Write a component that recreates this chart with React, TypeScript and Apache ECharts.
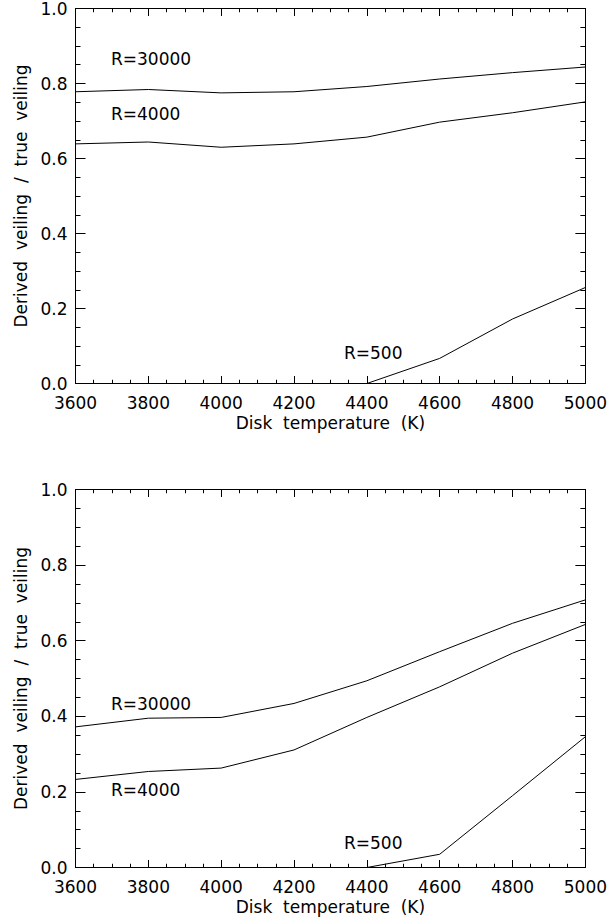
import React, { useEffect, useRef } from "react";
import * as echarts from "echarts";

const temps = [3600, 3800, 4000, 4200, 4400, 4600, 4800, 5000];
const xTicks = [3600, 3800, 4000, 4200, 4400, 4600, 4800, 5000];
const yTicks = [0.0, 0.2, 0.4, 0.6, 0.8, 1.0];

// Top panel
const topR30000 = [0.778, 0.784, 0.775, 0.778, 0.792, 0.812, 0.829, 0.844];
const topR4000 = [0.639, 0.644, 0.630, 0.639, 0.657, 0.697, 0.722, 0.751];
const topR500 = [null, null, null, null, 0.0, 0.067, 0.172, 0.256];

// Bottom panel
const botR30000 = [0.372, 0.395, 0.397, 0.434, 0.494, 0.571, 0.646, 0.708];
const botR4000 = [0.233, 0.254, 0.263, 0.311, 0.397, 0.478, 0.567, 0.643];
const botR500 = [null, null, null, null, 0.0, 0.035, 0.19, 0.346];

const xTitle = "Disk  temperature  (K)";
const yTitle = "Derived  veiling  /  true  veiling";

const FONT = "DejaVu Sans";
const FS = 17;

const pair = (ys: (number | null)[]) => temps.map((t, i) => [t, ys[i]]);

export default function App() {
  const ref = useRef<HTMLDivElement>(null);
  useEffect(() => {
    if (!ref.current) return;
    const chart = echarts.init(ref.current, null, { renderer: "svg" });
    const L = 75.5, W = 512, H = 378;
    const tops = [5.5, 489.5];

    const lineStyle = { color: "#000", width: 1 };
    const xAxes: any[] = [];
    const yAxes: any[] = [];
    tops.forEach((_, g) => {
      ["bottom", "top"].forEach((pos) => {
        const main = pos === "bottom";
        xAxes.push({
          type: "value",
          gridIndex: g,
          position: pos,
          min: xTicks[0],
          max: xTicks[xTicks.length - 1],
          interval: 200,
          axisLine: { show: true, onZero: false, lineStyle },
          axisTick: { show: true, inside: true, length: 7.5, lineStyle },
          minorTick: { show: true, splitNumber: 4, length: 3.75, lineStyle },
          splitLine: { show: false },
          axisLabel: {
            show: main,
            color: "#000",
            fontFamily: FONT,
            fontSize: FS,
            margin: 11,
            formatter: (v: number) => String(v),
          },
          name: main ? xTitle : "",
          nameLocation: "middle",
          nameGap: 31,
          nameTextStyle: { color: "#000", fontFamily: FONT, fontSize: FS },
        });
      });
      ["left", "right"].forEach((pos) => {
        const main = pos === "left";
        yAxes.push({
          type: "value",
          gridIndex: g,
          position: pos,
          min: yTicks[0],
          max: yTicks[yTicks.length - 1],
          interval: 0.2,
          axisLine: { show: true, onZero: false, lineStyle },
          axisTick: { show: true, inside: true, length: 10, lineStyle },
          minorTick: { show: true, splitNumber: 4, length: 5, lineStyle },
          splitLine: { show: false },
          axisLabel: {
            show: main,
            color: "#000",
            fontFamily: FONT,
            fontSize: FS,
            margin: 8,
            formatter: (v: number) => v.toFixed(1),
          },
          name: main ? yTitle : "",
          nameLocation: "middle",
          nameGap: 45,
          nameRotate: 90,
          nameTextStyle: { color: "#000", fontFamily: FONT, fontSize: FS },
        });
      });
    });

    const mk = (name: string, data: (number | null)[], g: number) => ({
      type: "line",
      name,
      xAxisIndex: g * 2,
      yAxisIndex: g * 2,
      data: pair(data),
      showSymbol: false,
      symbol: "none",
      lineStyle: { color: "#000", width: 1 },
      clip: true,
      connectNulls: false,
    });

    const lbl = (text: string, x: number, y: number) => ({
      type: "text",
      x,
      y,
      style: {
        text,
        fill: "#000",
        font: `${FS}px "${FONT}"`,
        verticalAlign: "middle",
      },
    });

    chart.setOption({
      animation: false,
      backgroundColor: "#fff",
      grid: tops.map((t) => ({ left: L, top: t, width: W, height: H })),
      xAxis: xAxes,
      yAxis: yAxes,
      series: [
        mk("R=30000", topR30000, 0),
        mk("R=4000", topR4000, 0),
        mk("R=500", topR500, 0),
        mk("R=30000", botR30000, 1),
        mk("R=4000", botR4000, 1),
        mk("R=500", botR500, 1),
      ],
      graphic: [
        lbl("R=30000", 111, 59),
        lbl("R=4000", 111, 114),
        lbl("R=500", 344, 353),
        lbl("R=30000", 111, 704),
        lbl("R=4000", 111, 790),
        lbl("R=500", 344, 843),
      ],
    });
    return () => chart.dispose();
  }, []);
  return (
    <div
      ref={ref}
      style={{ position: "fixed", left: 0, top: 0, width: 610, height: 919 }}
    />
  );
}
